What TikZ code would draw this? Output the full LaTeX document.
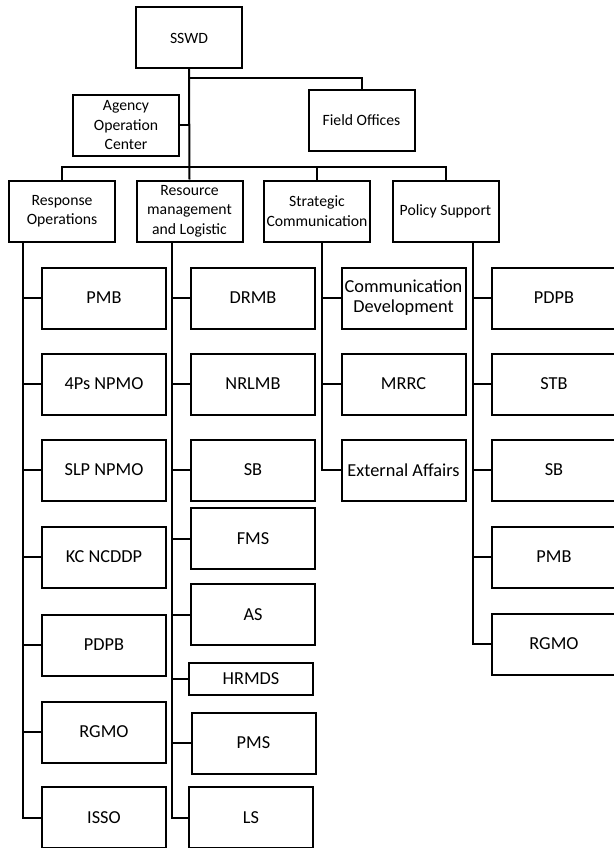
\documentclass[tikz,border=0pt]{standalone}
\usepackage{fontspec}
\setmainfont{Carlito}
\usetikzlibrary{positioning}

\begin{document}
\begin{tikzpicture}[x=1pt, y=-1pt, line width=2pt]
	\useasboundingbox (0,0) rectangle (613,848);
	\begin{scope}[every node/.style={rectangle, draw, align=center, inner sep=1pt,
	              minimum width=106pt, minimum height=61pt,
	              font=\fontsize{15.7}{19.5}\selectfont}]
		\node (sswd) at (189,38) {SSWD};
		\node (aoc) at (126,125.5) {Agency\\Operation\\Center};
		\node (fo) at (361.5,120.5) {Field Offices};
		\node (ro) at (62,211) {Response\\Operations};
		\node (rml) at (189.5,211) {Resource\\management\\and Logistic};
		\node (sc) at (317,211) {Strategic\\Communication};
		\node (ps) at (445.5,211) {Policy Support};
	\end{scope}

	\begin{scope}[every node/.style={rectangle, draw, align=center, inner sep=1pt,
	              minimum width=124pt, minimum height=61pt,
	              font=\fontsize{18.3}{20}\selectfont}]
		\node (ro1) at (104,298) {PMB};
		\node (ro2) at (104,384) {4Ps NPMO};
		\node (ro3) at (104,470) {SLP NPMO};
		\node (ro4) at (104,557) {KC NCDDP};
		\node (ro5) at (104,645) {PDPB};
		\node (ro6) at (104,732) {RGMO};
		\node (ro7) at (104,817.5) {ISSO};

		\node (rml1) at (253,298) {DRMB};
		\node (rml2) at (253,384) {NRLMB};
		\node (rml3) at (253,470) {SB};
		\node (rml4) at (253,538.5) {FMS};
		\node (rml5) at (253,614.5) {AS};
		\node[minimum height=32pt] (rml6) at (251,679) {HRMDS};
		\node (rml7) at (253.5,743) {PMS};
		\node (rml8) at (251,817.5) {LS};

		\node (sc1) at (403.5,298) {Communication\\Development};
		\node (sc2) at (403.5,384) {MRRC};
		\node (sc3) at (403.5,470) {External Affairs};

		\node (ps1) at (554,298) {PDPB};
		\node (ps2) at (554,384) {STB};
		\node (ps3) at (554,470) {SB};
		\node (ps4) at (554,557) {PMB};
		\node (ps5) at (554,644) {RGMO};
	\end{scope}

	\draw (sswd.south) -- (rml.north);
	\draw (sswd.south) -- ++(0,9) -| (fo.north);
	\draw (aoc.east) -- (aoc.east -| sswd.south);
	\draw (ro.north) -- ++(0,-13) -| (ps.north);
	\draw (sc.north) -- ++(0,-13);
	\foreach \i in {1,...,7} {\draw ([xshift=15pt]ro.south west) |- (ro\i.west);}
	\foreach \i in {1,...,8} {\draw ([xshift=36pt]rml.south west) |- (rml\i.west);}
	\foreach \i in {1,2,3} {\draw ([xshift=59pt]sc.south west) |- (sc\i.west);}
	\foreach \i in {1,...,5} {\draw ([xshift=81pt]ps.south west) |- (ps\i.west);}
\end{tikzpicture}
\end{document}
